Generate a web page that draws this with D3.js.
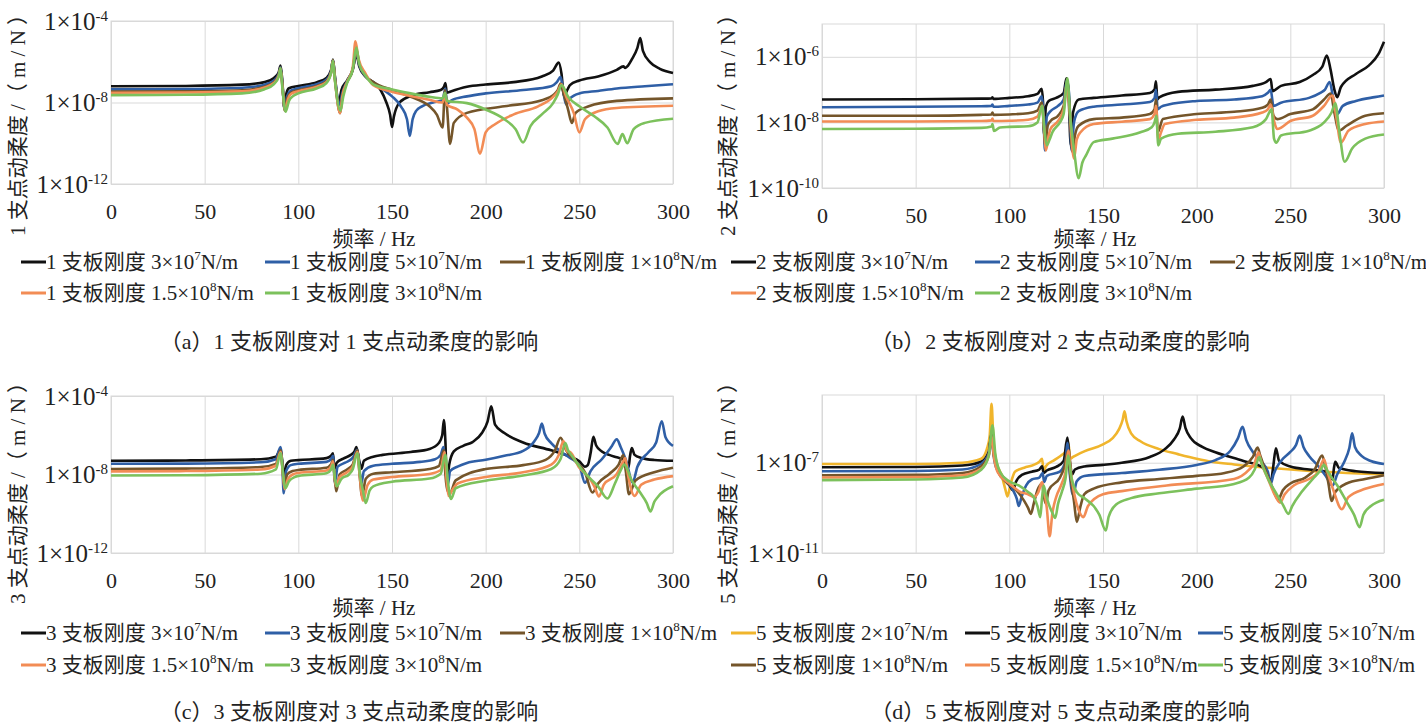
<!DOCTYPE html>
<html>
<head>
<meta charset="utf-8">
<script src="https://cdn.jsdelivr.net/npm/d3@7"></script>
<style>
  body { margin: 0; background: #fff; }
  svg text { font-family: "Liberation Serif", "Noto Sans CJK SC", serif; fill: #222; }
</style>
</head>
<body>
<svg id="chart" width="1426" height="723"></svg>
<script>
// ---- data (frequency Hz, dynamic compliance m/N) ----
var freqTicks = [0, 50, 100, 150, 200, 250, 300];

var ticksA = [1e-12, 1e-8, 1e-4];
var ticksB = [1e-10, 1e-8, 1e-6];
var ticksC = [1e-12, 1e-8, 1e-4];
var ticksD = [1e-11, 1e-7];

var colors5 = ["#111111", "#2f5fa6", "#74552a", "#f28c55", "#7cc15c"];
var colors6 = ["#f0b52c", "#111111", "#2f5fa6", "#74552a", "#f28c55", "#7cc15c"];

var stiffMant5 = ["3", "5", "1", "1.5", "3"];
var stiffExp5 = ["7", "7", "8", "8", "8"];
var stiffMant6 = ["2", "3", "5", "1", "1.5", "3"];
var stiffExp6 = ["7", "7", "7", "8", "8", "8"];

// (a) support 1
var a_k3e7 = [[0,6.3e-8],[40,6.5e-8],[70,7.5e-8],[82,1e-7],[87,1.6e-7],[89.5,3e-7],[90.5,6.5e-7],[91.5,1e-7],[92.5,5.4e-9],[93.5,2.5e-8],[95,5e-8],[100,6.5e-8],[110,1e-7],[115,1.6e-7],[117.5,4e-7],[118.5,1.3e-6],[119.5,2e-7],[121.5,9.3e-9],[123,4e-8],[126,1.2e-7],[129,4e-7],[131,2.3e-6],[132.5,6e-7],[136,1.8e-7],[140,1e-7],[144,4e-8],[147,1e-8],[149,2.5e-9],[150,6.3e-10],[151,2e-9],[154,1e-8],[160,2.1e-8],[170,3.2e-8],[176,4.1e-8],[177.8,6e-8],[178.5,9.1e-8],[179.3,3e-8],[181,3.4e-8],[190,5.9e-8],[200,7.6e-8],[215,1e-7],[230,1.9e-7],[236,3.7e-7],[239,9.1e-7],[240.5,2.5e-7],[241.8,2e-8],[243.5,4e-8],[245,7.1e-8],[250,1.2e-7],[260,1.9e-7],[270,4e-7],[273.5,5.9e-7],[274.5,5e-7],[276,6.5e-7],[278,1.3e-6],[281,4.8e-6],[282.5,1.45e-5],[284,3.3e-6],[288,9.1e-7],[293,4.5e-7],[300,2.8e-7]];
var a_k5e7 = [[0,4.4e-8],[40,4.6e-8],[70,5.3e-8],[82,7.5e-8],[87,1.2e-7],[89.5,2.5e-7],[90.5,5.4e-7],[91.5,8e-8],[92.7,4.5e-9],[94,2e-8],[96,3.8e-8],[100,5e-8],[110,8e-8],[115,1.3e-7],[117.5,3.5e-7],[118.5,1.2e-6],[119.5,1.8e-7],[122,7.8e-9],[123.5,3e-8],[126,1.1e-7],[129,4e-7],[131,3e-6],[132.5,7e-7],[136,1.9e-7],[140,1e-7],[145,4.5e-8],[150,2e-8],[155,6e-9],[158,1.5e-9],[159.5,2.3e-10],[161,1.5e-9],[163,4e-9],[166,6.5e-9],[172,1e-8],[177,1.3e-8],[178.5,4.9e-8],[179.3,9e-9],[182,1.3e-8],[190,2e-8],[200,2.8e-8],[220,4.1e-8],[235,6.3e-8],[238,1e-7],[240,1.8e-7],[241.5,3e-8],[243,7.8e-9],[245,1.6e-8],[250,2.8e-8],[260,3.7e-8],[270,4.9e-8],[285,6.3e-8],[300,7.8e-8]];
var a_k1e8 = [[0,3.4e-8],[40,3.5e-8],[70,4e-8],[82,6e-8],[87,1e-7],[89.5,2.2e-7],[90.5,5e-7],[91.5,7e-8],[92.8,4e-9],[94,1.5e-8],[96,3e-8],[100,4e-8],[110,6.5e-8],[115,1.1e-7],[117.5,3e-7],[118.5,1.2e-6],[119.5,1.5e-7],[122.3,3e-9],[123.5,2e-8],[126,1e-7],[129,4e-7],[131,4e-6],[132.5,8e-7],[136,2e-7],[140,1e-7],[150,4.1e-8],[160,1.9e-8],[170,6.5e-9],[174,2.5e-9],[177,5.9e-10],[178.3,4.1e-8],[179.3,6.5e-9],[181,9.3e-11],[183,1e-9],[190,3.1e-9],[210,6.5e-9],[230,1.3e-8],[236,2.3e-8],[238.5,4e-8],[240,8.5e-8],[241.5,3e-8],[244,4.5e-9],[246,1e-9],[248,3.1e-9],[255,6.5e-9],[270,1.2e-8],[300,1.6e-8]];
var a_k15e8 = [[0,3e-8],[40,3.1e-8],[70,3.5e-8],[82,5.5e-8],[87,9e-8],[89.5,2e-7],[90.5,4.5e-7],[91.5,6e-8],[93,4e-9],[94.5,1.5e-8],[96,2.6e-8],[100,3.6e-8],[110,6e-8],[115,1e-7],[117.5,3e-7],[118.5,1.1e-6],[119.5,1.4e-7],[122.3,3e-9],[123.5,2e-8],[126,1e-7],[129,5e-7],[130.5,1e-5],[132,1.5e-6],[136,2.5e-7],[140,7e-8],[150,3.4e-8],[160,2.1e-8],[170,1.35e-8],[177,1e-8],[178.3,2.3e-8],[179.3,7.8e-9],[185,4.5e-9],[190,1.8e-9],[194,4.9e-10],[197,3.1e-11],[200,3.4e-10],[205,8.5e-10],[215,2.6e-9],[228,6.5e-9],[236,1.9e-8],[238.5,3.5e-8],[240.5,7.8e-8],[243,1.9e-8],[247,3.1e-9],[250,3.4e-10],[253,1.5e-9],[260,3.7e-9],[270,5.4e-9],[300,6.9e-9]];
var a_k3e8 = [[0,2.3e-8],[40,2.4e-8],[70,2.8e-8],[82,4.5e-8],[87,8e-8],[89.5,1.8e-7],[90.5,4.9e-7],[91.5,5e-8],[93.2,3.5e-9],[95,1.2e-8],[97,2e-8],[100,2.8e-8],[110,5e-8],[115,9e-8],[117.5,2.8e-7],[118.5,1.1e-6],[119.5,1.3e-7],[122.5,4e-9],[124,2e-8],[126,9e-8],[129,4e-7],[131,5e-6],[132.5,8e-7],[136,2e-7],[140,7.8e-8],[150,4.4e-8],[160,2.8e-8],[170,1.9e-8],[177,1.6e-8],[178.3,3e-8],[179.3,1.2e-8],[190,9.3e-9],[200,4.5e-9],[210,1.5e-9],[216,4.9e-10],[220,1.1e-10],[224,7.1e-10],[230,2.6e-9],[236,9.3e-9],[238.5,2.5e-8],[240.5,7.1e-8],[244,1.9e-8],[250,6.5e-9],[258,2.1e-9],[265,5.9e-10],[270.5,9.3e-11],[273,2.8e-10],[275.5,1e-10],[279,4.9e-10],[285,1e-9],[300,1.6e-9]];

// (b) support 2
var b_k3e7 = [[0,5e-8],[50,5.1e-8],[85,5.3e-8],[90.5,5.4e-8],[91,5.8e-8],[91.5,5.2e-8],[100,5.6e-8],[110,6.3e-8],[115,7.4e-8],[117.3,1.05e-7],[118,4e-8],[118.6,4e-9],[119.5,3e-8],[121,4.5e-8],[125,5.6e-8],[129,7.9e-8],[130.5,2.2e-7],[131.5,1e-7],[132.8,2e-9],[134,2e-8],[137,5e-8],[145,5.6e-8],[160,6.6e-8],[175,7.9e-8],[177.5,1e-7],[178.3,1.8e-7],[179,5e-8],[180,5.8e-8],[190,8.5e-8],[210,1e-7],[230,1.3e-7],[237,1.7e-7],[239.5,2.1e-7],[240.5,9e-8],[245,1.3e-7],[255,1.7e-7],[262,2.8e-7],[267,4.9e-7],[269.5,1.1e-6],[271.5,4e-7],[273.5,1e-7],[275,5.9e-8],[277,1.2e-7],[285,3e-7],[292,5.5e-7],[297,1.2e-6],[300,2.9e-6]];
var b_k5e7 = [[0,2.9e-8],[50,3e-8],[85,3.1e-8],[90.5,3.2e-8],[91,3.5e-8],[91.5,3e-8],[100,3.2e-8],[110,3.5e-8],[115,4e-8],[117.3,6.3e-8],[118.2,2e-8],[119,1.4e-9],[120,1.5e-8],[122,2.2e-8],[126,3.2e-8],[129,5e-8],[130.8,2e-7],[132,6e-8],[133.2,1.4e-9],[134.5,1e-8],[137,2.2e-8],[145,3e-8],[160,3.5e-8],[175,4.2e-8],[177.5,5.5e-8],[178.3,9.8e-8],[179.2,2.5e-8],[181,3e-8],[185,3.5e-8],[200,4.5e-8],[220,5e-8],[235,6.3e-8],[238,8e-8],[239.5,9.8e-8],[241,3.2e-8],[245,4e-8],[260,5.6e-8],[266,8e-8],[268.5,1e-7],[271,1.7e-7],[273,5e-8],[275,1.8e-8],[278,3.2e-8],[285,4.5e-8],[295,5.9e-8],[300,6.6e-8]];
var b_k1e8 = [[0,1.6e-8],[50,1.6e-8],[85,1.7e-8],[90.5,1.75e-8],[91,2e-8],[91.5,1.7e-8],[100,1.75e-8],[110,1.9e-8],[115,2.3e-8],[117.3,4e-8],[118.3,1e-8],[119.2,2e-9],[120.5,8e-9],[122,1.1e-8],[126,1.6e-8],[129,3.2e-8],[130.8,1.7e-7],[132,4e-8],[133.7,1.26e-9],[135,4e-9],[137,7.9e-9],[145,1.26e-8],[160,1.4e-8],[175,1.8e-8],[177.5,2.5e-8],[178.3,5e-8],[179.2,5e-9],[182,1.26e-8],[200,1.8e-8],[220,2.1e-8],[235,2.8e-8],[238,3.5e-8],[239.5,5e-8],[241,1.6e-8],[243,1.26e-8],[250,1.8e-8],[262,2.5e-8],[268,5e-8],[271.5,7.6e-8],[273.5,2e-8],[276,5.6e-9],[280,7.9e-9],[290,1.6e-8],[300,1.9e-8]];
var b_k15e8 = [[0,1.07e-8],[50,1.07e-8],[85,1.1e-8],[90.5,1.15e-8],[91,1.3e-8],[91.5,1.1e-8],[100,1.12e-8],[110,1.2e-8],[115,1.5e-8],[117.5,3.2e-8],[118.5,8e-9],[119.5,1.4e-9],[121,4e-9],[122,6.3e-9],[126,1.1e-8],[129,2.5e-8],[130.8,1.55e-7],[132,3e-8],[134.5,7.9e-10],[136,3e-9],[138,5e-9],[145,8.9e-9],[160,1.05e-8],[175,1.26e-8],[177.5,1.8e-8],[178.3,3.2e-8],[179.5,3e-9],[181,5e-9],[183,8.9e-9],[200,1.2e-8],[220,1.4e-8],[235,2e-8],[238,2.5e-8],[239.5,3.5e-8],[241.5,1e-8],[243,6.3e-9],[250,1.1e-8],[262,1.6e-8],[268,3.2e-8],[272.5,6.6e-8],[274.5,1.5e-8],[277,2.4e-9],[281,5.6e-9],[290,8.9e-9],[300,1.07e-8]];
var b_k3e8 = [[0,6.3e-9],[50,6.4e-9],[85,6.8e-9],[90.5,7.5e-9],[91,8.9e-9],[91.8,5.5e-9],[95,7e-9],[100,7.3e-9],[110,7.6e-9],[115,1e-8],[117.5,3.2e-8],[118.7,6e-9],[120,2e-9],[121.5,3e-9],[123,5e-9],[127,1e-8],[129,1.8e-8],[131,2.2e-7],[132.5,1.5e-8],[134.5,1.5e-9],[137,2e-10],[139,6e-10],[141,1e-9],[145,2.5e-9],[155,3.2e-9],[170,5e-9],[176,7.1e-9],[177.5,1e-8],[178.5,1.6e-8],[179.5,2e-9],[181,3.2e-9],[190,4.5e-9],[210,5.2e-9],[230,7.1e-9],[237,1.26e-8],[240,2.5e-8],[241.3,3.2e-9],[242.5,2.4e-9],[245,4e-9],[260,5.6e-9],[268,1e-8],[272,2e-8],[274,3.8e-8],[276,6.3e-9],[279,6.3e-10],[283,1.6e-9],[290,3.2e-9],[300,4.3e-9]];

// (c) support 3
var c_k3e7 = [[0,5e-8],[40,5.2e-8],[80,6e-8],[88,8e-8],[90.5,2e-7],[91.5,4e-8],[92.2,7e-9],[93.5,3e-8],[96,5e-8],[100,5.4e-8],[115,6.8e-8],[117.5,9e-8],[118.5,1.2e-7],[119.3,2e-8],[120.5,4e-8],[124,6.5e-8],[128,1e-7],[130,1.5e-7],[131,2.5e-7],[132.5,5e-8],[133.7,2e-8],[135,5e-8],[140,8e-8],[145,1e-7],[160,1.4e-7],[170,2e-7],[175,4e-7],[176.8,1e-6],[177.7,6e-6],[178.5,5e-7],[179.3,3.5e-9],[180.5,3e-8],[183,1.5e-7],[188,2.9e-7],[193,4.5e-7],[198,1.3e-6],[201,5e-6],[203,3e-5],[205,3.5e-6],[210,1.3e-6],[220,4.3e-7],[235,1.7e-7],[245,8e-8],[250,4.7e-8],[253,2.5e-8],[254.5,3e-8],[256,1.2e-7],[257.5,8.3e-7],[259,3e-7],[262,1.5e-7],[266,1e-7],[270,7.5e-8],[274,5.5e-8],[276.3,2.4e-8],[277,8e-8],[278,2.2e-7],[279.5,1e-7],[283,7e-8],[290,5.5e-8],[300,5e-8]];
var c_k5e7 = [[0,3.5e-8],[40,3.6e-8],[80,4.2e-8],[88,6e-8],[90.5,2.5e-7],[91.5,2e-8],[92.2,1.1e-9],[93.5,1.5e-8],[96,3e-8],[100,3.5e-8],[115,4.4e-8],[117.5,6e-8],[118.5,9e-8],[119.5,4e-9],[121,2.5e-8],[125,4e-8],[129,7e-8],[131.5,1.8e-7],[132.5,3e-8],[133.5,3e-9],[135,1.5e-8],[140,2.8e-8],[150,3.5e-8],[165,4.4e-8],[173,6e-8],[176,1e-7],[177.5,2.5e-7],[178.5,3e-8],[179.8,3e-9],[181,1.5e-8],[185,2.5e-8],[190,3.9e-8],[200,5.6e-8],[210,9e-8],[220,1.6e-7],[226,5e-7],[228.5,1.3e-6],[230,3.9e-6],[231.5,1.2e-6],[235,4e-7],[240,1.5e-7],[245,7e-8],[250,3e-8],[253,3.8e-9],[256,1.5e-8],[262,6e-8],[267,2.5e-7],[270,6.2e-7],[272,2.6e-7],[275,5e-8],[278.5,4e-9],[281,2.5e-8],[287,1.4e-7],[291,4.3e-7],[294,5.2e-6],[296,8e-7],[300,2.9e-7]];
var c_k1e8 = [[0,1.9e-8],[40,2e-8],[80,2.4e-8],[88,3.5e-8],[90.5,1.7e-7],[91.7,1.5e-8],[92.6,2e-9],[94,1e-8],[97,1.5e-8],[100,1.7e-8],[115,2.2e-8],[117.5,3.3e-8],[118.5,5.6e-8],[119.5,5e-9],[120.3,1.4e-9],[122,1e-8],[126,1.8e-8],[129,3.2e-8],[131.5,1.7e-7],[132.7,1e-8],[134,8e-10],[136,6e-9],[140,1.1e-8],[150,1.3e-8],[170,1.9e-8],[175,2.7e-8],[177.7,1.7e-7],[178.5,1e-8],[179.8,1.4e-9],[181,1.2e-9],[184,5e-9],[200,1.9e-8],[220,3e-8],[232,5.6e-8],[237,1.7e-7],[240,7.4e-7],[243,1.7e-7],[248,4.7e-8],[253,1.3e-8],[257,1.2e-9],[260,3.5e-9],[266,1.07e-8],[271,3.2e-8],[273.5,9.8e-8],[274.8,1.5e-8],[276.5,1e-9],[280,5e-9],[290,1.3e-8],[300,2.2e-8]];
var c_k15e8 = [[0,1.45e-8],[40,1.5e-8],[80,1.8e-8],[88,2.8e-8],[90.5,1.4e-7],[91.8,1e-8],[92.7,1.8e-9],[94.5,6e-9],[97,1e-8],[100,1.2e-8],[115,1.6e-8],[117.5,2.6e-8],[118.5,4.7e-8],[119.5,5e-9],[120.3,2.5e-9],[122,7.4e-9],[126,1.3e-8],[129,2.5e-8],[131.5,1.4e-7],[132.8,8e-9],[134.5,4.7e-10],[137,3e-9],[140,5.5e-9],[150,7.4e-9],[170,1.07e-8],[176,1.7e-8],[178,1.4e-7],[179.2,5e-9],[180.2,8.1e-10],[182,1.5e-9],[185,3.5e-9],[200,7.4e-9],[220,1.3e-8],[235,3.2e-8],[239,9.8e-8],[241.5,5.1e-7],[243.5,1.5e-7],[245,1.4e-7],[250,2.2e-8],[255,7.4e-9],[258,2.5e-9],[260.5,7.6e-10],[263,2.95e-9],[270,1.07e-8],[273,3.9e-8],[274.5,6.8e-8],[275.8,1.2e-8],[279.5,8.1e-10],[283,3e-9],[290,5.5e-9],[300,8.3e-9]];
var c_k3e8 = [[0,8.9e-9],[40,9.2e-9],[80,1.1e-8],[88,1.8e-8],[90.5,1.2e-7],[92,8e-9],[93,2e-9],[95,4.5e-9],[98,7.4e-9],[100,8.5e-9],[115,1.15e-8],[117.5,1.8e-8],[118.5,3.2e-8],[119.7,5e-9],[120.5,2.5e-9],[123,6e-9],[127,1e-8],[129,1.8e-8],[131.5,1.2e-7],[133,8e-9],[134.5,1.5e-9],[136,3.5e-10],[138,1.5e-9],[140,2.5e-9],[150,4.3e-9],[170,6.2e-9],[176,1.1e-8],[178.5,1e-7],[179.8,5e-9],[181.5,5.6e-10],[184,2e-9],[200,4.8e-9],[220,8.9e-9],[235,1.9e-8],[240,6.2e-8],[242.5,4e-7],[244,1.7e-7],[246,9e-8],[252,1.5e-8],[256,6e-9],[260,2.5e-9],[265,6e-10],[269,3.5e-9],[272,1.55e-8],[274,3.2e-8],[276,1.5e-8],[277,8e-9],[282,1.4e-9],[286,3.5e-10],[288,1.3e-10],[290,4e-10],[292,7.4e-10],[300,2.5e-9]];

// (d) support 5
var d_k2e7 = [[0,8.8e-8],[50,8.8e-8],[75,1e-7],[85,1.5e-7],[88,4e-7],[89.5,1.5e-6],[90.5,4.1e-5],[91.5,1e-6],[93,1.2e-7],[96,2.6e-8],[98,6e-9],[99,3.2e-9],[100.5,1e-8],[103,4e-8],[108,6e-8],[113,8e-8],[116,1.1e-7],[117.5,1.5e-7],[118.3,4e-8],[119.5,7e-8],[124,1.3e-7],[128,2.2e-7],[130.5,3.5e-7],[131.5,7.6e-7],[132.5,1.5e-7],[134,1.8e-7],[140,3.2e-7],[150,6.5e-7],[155,1.2e-6],[158.5,3e-6],[160.5,8e-6],[161.5,1.9e-5],[162.5,7e-6],[165,2e-6],[170,8.9e-7],[180,4e-7],[190,2.4e-7],[200,1.5e-7],[208,1.1e-7],[220,8.4e-8],[240,5.8e-8],[257,4.5e-8],[280,3.5e-8],[300,3e-8]];
var d_k3e7 = [[0,6.3e-8],[50,6.5e-8],[75,7.5e-8],[85,1.1e-7],[89,3e-7],[90.5,2e-6],[91.5,3e-7],[93,8e-8],[96,2.5e-8],[100,1e-8],[102,6e-9],[103.5,1.4e-8],[107,3e-8],[112,4e-8],[116,5e-8],[117.5,7e-8],[118.3,3.5e-8],[120,4.5e-8],[125,6.5e-8],[129,1.2e-7],[131,1.3e-6],[132.2,1.5e-7],[133.5,3e-8],[135,5e-8],[140,6.8e-8],[150,8e-8],[160,1e-7],[175,1.8e-7],[183,4e-7],[188,1.1e-6],[191,3.3e-6],[192.5,1.1e-5],[194,3.5e-6],[197,1.2e-6],[203,5e-7],[210,2.9e-7],[225,1.2e-7],[235,6.3e-8],[238,3e-8],[239.5,1.3e-8],[240.8,6e-8],[242.3,4.4e-7],[244,1.2e-7],[250,6.8e-8],[260,5e-8],[268,4.2e-8],[271,3e-8],[272.5,1.8e-8],[273.3,6e-8],[274,1.1e-7],[276,5.8e-8],[285,4.2e-8],[300,3.5e-8]];
var d_k5e7 = [[0,4.2e-8],[50,4.3e-8],[75,5e-8],[85,9e-8],[89,2.5e-7],[90.5,1.7e-6],[91.5,2.5e-7],[93,6e-8],[97,2.2e-8],[102,6e-9],[104,2.5e-9],[105,1.2e-9],[106.5,3e-9],[109,1e-8],[112,1.8e-8],[116,2.2e-8],[117.8,3.5e-8],[118.6,1.4e-8],[120,2.6e-8],[127,4e-8],[130,1.2e-7],[131,7.6e-7],[132.3,3e-8],[134,3.7e-9],[136,1.5e-8],[140,2.6e-8],[160,3.5e-8],[180,4.9e-8],[200,8e-8],[210,1.3e-7],[218,3.4e-7],[222,1.2e-6],[224.5,3.9e-6],[226.5,1e-6],[230,3e-7],[235,1e-7],[238,4e-8],[239.5,1.15e-8],[241,3e-8],[245,1.2e-7],[250,3e-7],[253,6e-7],[255,1.6e-6],[257,5e-7],[260,2e-7],[265,7e-8],[269,2.5e-8],[272.5,9.8e-9],[275,3e-8],[279,1.2e-7],[281.5,4.5e-7],[283,2e-6],[284.5,5e-7],[288,2e-7],[293,1.2e-7],[300,8.8e-8]];
var d_k1e8 = [[0,2.8e-8],[50,2.9e-8],[75,3.5e-8],[85,7e-8],[89,2.2e-7],[90.5,1.7e-6],[91.8,2e-7],[94,4e-8],[98,1.5e-8],[103,7e-9],[108,2e-9],[110,1e-9],[111.5,5.4e-10],[113,1.5e-9],[115,6e-9],[117.5,1.2e-8],[118.5,3e-9],[119.5,1.5e-9],[121,6e-9],[127,2.2e-8],[129.5,7e-8],[131,3e-7],[132.5,3e-8],[134.5,2e-9],[136,2.4e-10],[138,1.2e-9],[140,4e-9],[145,7.1e-9],[160,1.35e-8],[180,1.9e-8],[200,2.6e-8],[215,3.5e-8],[225,6.8e-8],[230,1.8e-7],[232.5,4.7e-7],[234,2e-7],[237,4e-8],[240,9.8e-9],[243.5,2.3e-9],[246,6e-9],[250,1.2e-8],[258,2.2e-8],[263,5e-8],[267,2.1e-7],[268.5,8e-8],[270.5,1e-8],[272,2e-9],[274,5e-9],[280,1.2e-8],[290,1.9e-8],[300,2.8e-8]];
var d_k15e8 = [[0,2.2e-8],[50,2.3e-8],[75,2.8e-8],[85,5.5e-8],[89,2e-7],[90.5,1.5e-6],[91.8,1.8e-7],[94,3.5e-8],[100,1.2e-8],[106,5e-9],[110,4e-9],[113,3e-9],[115.5,5e-9],[117.5,1.4e-8],[118.5,6e-9],[120,1e-9],[121.5,5.5e-11],[123,6e-10],[125,3e-9],[128,1.2e-8],[130,4e-8],[131.5,3.5e-7],[133,3e-8],[135,3e-9],[137,8e-10],[139.5,3.9e-10],[142,1.2e-9],[150,4e-9],[160,5.5e-9],[184,9.8e-9],[220,1.9e-8],[228,4.9e-8],[231,1e-7],[233,2.9e-7],[234.5,1e-7],[238,2e-8],[241,5e-9],[244.5,1.7e-9],[247,4e-9],[252,1e-8],[260,1.9e-8],[265,4e-8],[268,1.4e-7],[269.5,5e-8],[273,6e-9],[277.5,8.7e-10],[281,3e-9],[290,7e-9],[300,1.15e-8]];
var d_k3e8 = [[0,1.7e-8],[50,1.8e-8],[75,2.2e-8],[85,4.9e-8],[89,2e-7],[91,4.6e-6],[92.5,2.5e-7],[95,4e-8],[100,1.5e-8],[105,9.8e-9],[110,5e-9],[113,3e-9],[115,1.2e-9],[116.5,3.9e-10],[117.5,3e-9],[118.3,9.8e-9],[119.5,4e-9],[121,1.5e-9],[123,6e-10],[124.5,3.6e-10],[126,1.5e-9],[128,5e-9],[130,2e-8],[131.5,2.1e-7],[133,2.5e-8],[136,5e-9],[140,2.7e-9],[145,1.2e-9],[148,5e-10],[151.5,1e-10],[153,4e-10],[157,1.4e-9],[165,2.7e-9],[180,4.4e-9],[200,7.1e-9],[220,1.15e-8],[228,2.2e-8],[231,5e-8],[233.5,1.8e-7],[235,8e-8],[238,2e-8],[243,3.7e-9],[246,1.4e-9],[249,5.4e-10],[251,1.2e-9],[256,5e-9],[262,1.9e-8],[266,4.5e-8],[268,8e-8],[270,4e-8],[275,1e-8],[280,1.9e-9],[284,5e-10],[287,1.4e-10],[289,5e-10],[293,1.2e-9],[300,2.3e-9]];

// ---- panel setup ----
var panels = [
  {n: "1", tag: "a", series: [a_k3e7, a_k5e7, a_k1e8, a_k15e8, a_k3e8], colors: colors5,
   mant: stiffMant5, exp: stiffExp5, yDomain: [1e-12, 1e-4], yTicks: ticksA,
   left: 111, right: 673, top: 21, bottom: 184, ylabX: 18, ylabY: 120, xlabX: 374, xlabY: 239,
   legX: [21, 265, 500], legY: [262, 293], capX: 349, capY: 342},
  {n: "2", tag: "b", series: [b_k3e7, b_k5e7, b_k1e8, b_k15e8, b_k3e8], colors: colors5,
   mant: stiffMant5, exp: stiffExp5, yDomain: [1e-10, 1e-5], yTicks: ticksB,
   left: 822, right: 1384, top: 24, bottom: 188, ylabX: 728, ylabY: 120, xlabX: 1095, xlabY: 239,
   legX: [731, 975, 1210], legY: [262, 293], capX: 1060, capY: 342},
  {n: "3", tag: "c", series: [c_k3e7, c_k5e7, c_k1e8, c_k15e8, c_k3e8], colors: colors5,
   mant: stiffMant5, exp: stiffExp5, yDomain: [1e-12, 1e-4], yTicks: ticksC,
   left: 111, right: 673, top: 396, bottom: 553, ylabX: 18, ylabY: 488, xlabX: 374, xlabY: 608,
   legX: [21, 265, 500], legY: [633, 665], capX: 349, capY: 712},
  {n: "5", tag: "d", series: [d_k2e7, d_k3e7, d_k5e7, d_k1e8, d_k15e8, d_k3e8], colors: colors6,
   mant: stiffMant6, exp: stiffExp6, yDomain: [1e-11, 1e-4], yTicks: ticksD,
   left: 822, right: 1384, top: 395, bottom: 553, ylabX: 728, ylabY: 488, xlabX: 1095, xlabY: 608,
   legX: [731, 965, 1198], legY: [633, 665], capX: 1060, capY: 712}
];

var svg = d3.select("#chart");

panels.forEach(drawPanel);

function drawPanel(p) {
  var x = d3.scaleLinear().domain([0, 300]).range([p.left, p.right]);
  var y = d3.scaleLog().domain(p.yDomain).range([p.bottom, p.top]);
  var g = svg.append("g");

  // plot frame
  g.append("rect")
    .attr("x", p.left).attr("y", p.top)
    .attr("width", p.right - p.left).attr("height", p.bottom - p.top)
    .attr("fill", "none").attr("stroke", "#d9d9d9");

  // x gridlines + labels
  var xa = g.append("g")
    .attr("transform", "translate(0," + p.bottom + ")")
    .call(d3.axisBottom(x).tickValues(freqTicks)
      .tickSize(-(p.bottom - p.top)).tickPadding(19).tickFormat(d3.format("d")));
  xa.select(".domain").remove();
  xa.selectAll("line").attr("stroke", "#d9d9d9");
  xa.selectAll("text").attr("font-size", 22).attr("fill", "#222")
    .style("font-family", "'Liberation Serif', serif");

  // y gridlines + labels
  var ya = g.append("g")
    .attr("transform", "translate(" + p.left + ",0)")
    .call(d3.axisLeft(y).tickValues(p.yTicks)
      .tickSize(-(p.right - p.left)).tickPadding(3).tickFormat(function () { return ""; }));
  ya.select(".domain").remove();
  ya.selectAll("line").attr("stroke", "#d9d9d9");
  ya.selectAll(".tick text").each(function (d) {
    var t = d3.select(this).attr("font-size", 25).attr("fill", "#222")
      .style("font-family", "'Liberation Serif', serif");
    t.append("tspan").text("1×10");
    t.append("tspan").attr("dy", -9).attr("font-size", 15).text(String(Math.round(Math.log10(d))));
  });

  // curves
  var line = d3.line()
    .x(function (d) { return x(d[0]); })
    .y(function (d) { return y(d[1]); })
    .curve(d3.curveMonotoneX);

  p.series.forEach(function (s, i) {
    g.append("path")
      .datum(s)
      .attr("fill", "none")
      .attr("stroke", p.colors[i])
      .attr("stroke-width", 2.6)
      .attr("stroke-linejoin", "round")
      .attr("d", line);
  });

  // axis titles
  g.append("text")
    .attr("transform", "translate(" + p.ylabX + "," + p.ylabY + ") rotate(-90)")
    .attr("text-anchor", "middle")
    .attr("dy", "0.35em")
    .attr("font-size", 21)
    .text(p.n + " 支点动柔度 /（ m / N ）");

  g.append("text")
    .attr("x", p.xlabX).attr("y", p.xlabY)
    .attr("dy", "0.35em")
    .attr("text-anchor", "middle")
    .attr("font-size", 21)
    .text("频率 / Hz");

  // legend
  p.series.forEach(function (s, i) {
    var lx = p.legX[i % 3], ly = p.legY[Math.floor(i / 3)];
    g.append("line")
      .attr("x1", lx).attr("x2", lx + 25)
      .attr("y1", ly).attr("y2", ly)
      .attr("stroke", p.colors[i]).attr("stroke-width", 3);
    var t = g.append("text")
      .attr("x", lx + 25).attr("y", ly + 7)
      .attr("font-size", 21);
    t.append("tspan").text(p.n + " 支板刚度 " + p.mant[i] + "×10");
    t.append("tspan").attr("dy", -9).attr("font-size", 13).text(p.exp[i]);
    t.append("tspan").attr("dy", 9).text("N/m");
  });

  // caption
  g.append("text")
    .attr("x", p.capX).attr("y", p.capY + 7)
    .attr("text-anchor", "middle")
    .attr("font-size", 22)
    .text("（" + p.tag + "）" + p.n + " 支板刚度对 " + p.n + " 支点动柔度的影响");
}
</script>
</body>
</html>
